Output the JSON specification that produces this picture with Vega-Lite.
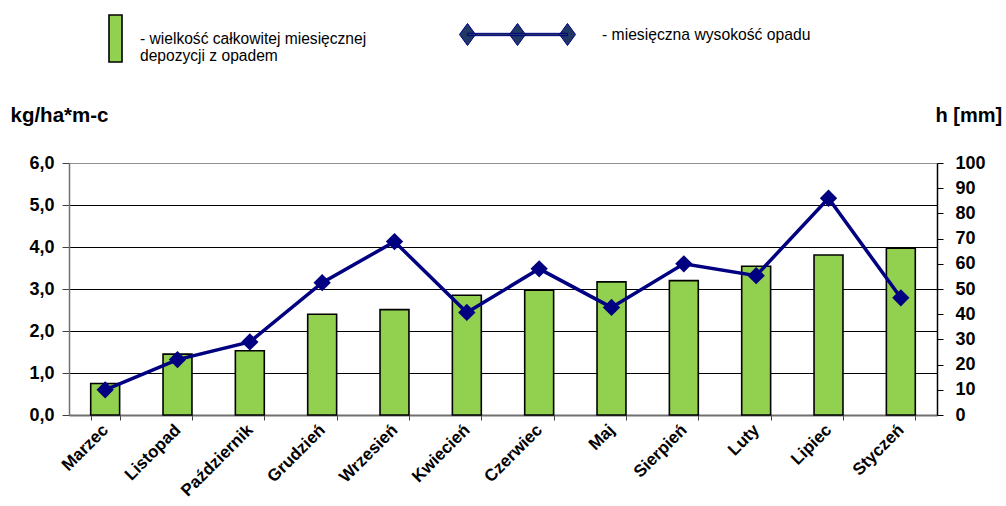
{
  "$schema": "https://vega.github.io/schema/vega-lite/v6.json",
  "width": 868,
  "height": 252,
  "autosize": {"type": "none"},
  "padding": {"left": 69, "top": 163, "right": 69, "bottom": 91},
  "config": {
    "font": "Liberation Sans",
    "view": {"stroke": null},
    "background": "white"
  },
  "data": {
    "values": [
      {"miesiac": "Marzec", "depozycja": 0.75, "opad": 10},
      {"miesiac": "Listopad", "depozycja": 1.45, "opad": 22},
      {"miesiac": "Październik", "depozycja": 1.53, "opad": 29},
      {"miesiac": "Grudzień", "depozycja": 2.4, "opad": 52.5},
      {"miesiac": "Wrzesień", "depozycja": 2.51, "opad": 68.8},
      {"miesiac": "Kwiecień", "depozycja": 2.85, "opad": 40.7},
      {"miesiac": "Czerwiec", "depozycja": 2.97, "opad": 58},
      {"miesiac": "Maj", "depozycja": 3.17, "opad": 42.7},
      {"miesiac": "Sierpień", "depozycja": 3.2, "opad": 60},
      {"miesiac": "Luty", "depozycja": 3.54, "opad": 55.3},
      {"miesiac": "Lipiec", "depozycja": 3.81, "opad": 86},
      {"miesiac": "Styczeń", "depozycja": 3.97, "opad": 46.5}
    ]
  },
  "encoding": {
    "x": {
      "field": "miesiac",
      "type": "nominal",
      "sort": null,
      "scale": {"paddingInner": 0.6, "paddingOuter": 0.3},
      "axis": {
        "title": null,
        "labelAngle": -45,
        "labelAlign": "right",
        "labelBaseline": "middle",
        "labelFont": "Liberation Sans",
        "labelFontWeight": "bold",
        "labelFontSize": 17,
        "labelColor": "black",
        "labelPadding": 7,
        "labelOverlap": false,
        "tickBand": "extent",
        "tickSize": 5,
        "tickColor": "#404040",
        "domainColor": "#707070",
        "domainWidth": 2
      }
    }
  },
  "layer": [
    {
      "mark": {"type": "bar", "stroke": "black", "strokeWidth": 1.6},
      "encoding": {
        "y": {
          "field": "depozycja",
          "type": "quantitative",
          "scale": {"domain": [0, 6], "nice": false},
          "axis": {
            "values": [0, 1, 2, 3, 4, 5, 6],
            "labelExpr": "replace(format(datum.value, '.1f'), '.', ',')",
            "labelOverlap": false,
            "grid": true,
            "gridColor": {"condition": {"test": "datum.value == 6", "value": "#909090"}, "value": "black"},
            "gridWidth": 1,
            "tickSize": 7,
            "tickColor": "#404040",
            "domainColor": "#707070",
            "domainWidth": 1.5,
            "labelPadding": 8,
            "labelFontSize": 18,
            "labelFontWeight": "bold",
            "labelColor": "black",
            "title": "kg/ha*m-c",
            "titleAngle": 0,
            "titleAlign": "left",
            "titleBaseline": "middle",
            "titleX": -59,
            "titleY": -48,
            "titleFontSize": 20.5,
            "titleFontWeight": "bold",
            "titleColor": "black"
          }
        },
        "fill": {
          "datum": "depozycja",
          "scale": {"range": ["#92D050"]},
          "legend": {
            "orient": "none",
            "legendX": 22,
            "legendY": -149,
            "title": null,
            "padding": 0,
            "labelOffset": 0,
            "labelFont": "Liberation Sans",
            "labelFontSize": 15.6,
            "labelColor": "black",
            "labelLimit": 400,
            "labelExpr": "['- wielkość całkowitej miesięcznej', 'depozycji z opadem']",
            "symbolType": "M-0.277,-1H0.277V1H-0.277Z",
            "symbolSize": 2209,
            "symbolFillColor": "#92D050",
            "symbolStrokeColor": "black",
            "symbolStrokeWidth": 1.6,
            "symbolOpacity": 1,
            "encode": {
              "symbols": {
                "update": {
                  "shape": {"value": "M-0.277,-1H0.277V1H-0.277Z"},
                  "size": {"value": 2209},
                  "fill": {"value": "#92D050"},
                  "stroke": {"value": "black"},
                  "strokeWidth": {"value": 1.6},
                  "opacity": {"value": 1}
                }
              },
              "labels": {
                "update": {
                  "lineHeight": {"value": 17}
                }
              }
            }
          }
        }
      }
    },
    {
      "encoding": {
        "y": {
          "field": "opad",
          "type": "quantitative",
          "scale": {"domain": [0, 100], "nice": false},
          "axis": {
            "orient": "right",
            "values": [0, 10, 20, 30, 40, 50, 60, 70, 80, 90, 100],
            "labelOverlap": false,
            "grid": false,
            "tickSize": 6,
            "tickColor": "black",
            "domainColor": "black",
            "domainWidth": 1.5,
            "labelPadding": 12,
            "labelFontSize": 18,
            "labelFontWeight": "bold",
            "labelColor": "black",
            "title": "h [mm]",
            "titleAngle": 0,
            "titleAlign": "left",
            "titleBaseline": "middle",
            "titleX": -2,
            "titleY": -48,
            "titleFontSize": 20,
            "titleFontWeight": "bold",
            "titleColor": "black"
          }
        }
      },
      "layer": [
        {
          "mark": {"type": "line", "strokeWidth": 3.5},
          "encoding": {
            "stroke": {
              "datum": "- miesięczna wysokość opadu",
              "scale": {"range": ["#000080"]},
              "legend": {
                "orient": "none",
                "legendX": 390,
                "legendY": -187,
                "title": null,
                "padding": 0,
                "labelOffset": 26,
                "labelFont": "Liberation Sans",
                "labelFontSize": 15.7,
                "labelColor": "black",
                "labelLimit": 400,
                "symbolType": "M-0.862,-0.02H0.862V0.02H-0.862Z M-1,0L-0.862,-0.19L-0.724,0L-0.862,0.19Z M-0.138,0L0,-0.19L0.138,0L0,0.19Z M0.724,0L0.862,-0.19L1,0L0.862,0.19Z",
                "symbolSize": 13456,
                "encode": {
                  "symbols": {
                    "update": {
                      "shape": {"value": "M-0.862,-0.02H0.862V0.02H-0.862Z M-1,0L-0.862,-0.19L-0.724,0L-0.862,0.19Z M-0.138,0L0,-0.19L0.138,0L0,0.19Z M0.724,0L0.862,-0.19L1,0L0.862,0.19Z"},
                      "size": {"value": 13456},
                      "fill": {"value": "#1F3864"},
                      "stroke": {"value": "black"},
                      "strokeWidth": {"value": 1},
                      "opacity": {"value": 1}
                    }
                  }
                }
              }
            }
          }
        },
        {
          "mark": {"type": "point", "shape": "diamond", "filled": true, "size": 300, "color": "#000080", "opacity": 1}
        }
      ]
    }
  ],
  "resolve": {"scale": {"y": "independent"}}
}
